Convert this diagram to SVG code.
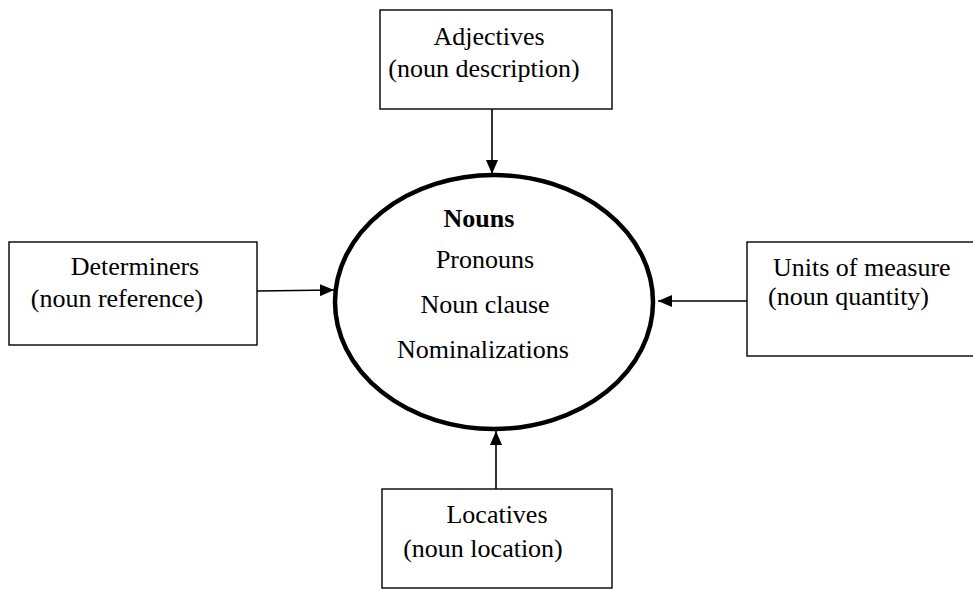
<svg xmlns="http://www.w3.org/2000/svg" width="973" height="590" viewBox="0 0 973 590">
<style>
.box{fill:#fff;stroke:#000;stroke-width:1.4}
.t{font-family:"Liberation Serif","Times New Roman",serif;font-size:26px;fill:#000}
.c{stroke:#000;stroke-width:1.6;fill:none}
</style>
<defs>
<marker id="ah" markerWidth="14" markerHeight="12" refX="14" refY="6" orient="auto" markerUnits="userSpaceOnUse">
<path d="M0,0 L14,6 L0,12 Z" fill="#000"/>
</marker>
</defs>
<rect width="973" height="590" fill="#fff"/>
<g id="connectors">
<line class="c" x1="492" y1="109" x2="492" y2="174" marker-end="url(#ah)"/>
<line class="c" x1="257" y1="291" x2="334" y2="290" marker-end="url(#ah)"/>
<line class="c" x1="747" y1="301" x2="658" y2="301" marker-end="url(#ah)"/>
<line class="c" x1="496" y1="489" x2="496" y2="431" marker-end="url(#ah)"/>
</g>
<g id="adjectives">
<rect class="box" x="380" y="10" width="232" height="99"/>
<text class="t" x="489" y="45" text-anchor="middle">Adjectives</text>
<text class="t" x="484" y="77" text-anchor="middle">(noun description)</text>
</g>
<g id="determiners">
<rect class="box" x="9" y="242" width="248" height="103"/>
<text class="t" x="135" y="275" text-anchor="middle">Determiners</text>
<text class="t" x="117" y="307" text-anchor="middle">(noun reference)</text>
</g>
<g id="units">
<rect class="box" x="747" y="242" width="230" height="114"/>
<text class="t" x="773" y="276">Units of measure</text>
<text class="t" x="768" y="305">(noun quantity)</text>
</g>
<g id="locatives">
<rect class="box" x="382" y="489" width="230" height="99"/>
<text class="t" x="497" y="523" text-anchor="middle">Locatives</text>
<text class="t" x="483" y="557" text-anchor="middle">(noun location)</text>
</g>
<g id="nouns">
<ellipse cx="494" cy="302" rx="159" ry="127" fill="#fff" stroke="#000" stroke-width="4.5"/>
<text class="t" x="479" y="227" text-anchor="middle" font-weight="bold">Nouns</text>
<text class="t" x="485" y="268" text-anchor="middle">Pronouns</text>
<text class="t" x="485" y="313" text-anchor="middle">Noun clause</text>
<text class="t" x="483" y="358" text-anchor="middle">Nominalizations</text>
</g>
</svg>
